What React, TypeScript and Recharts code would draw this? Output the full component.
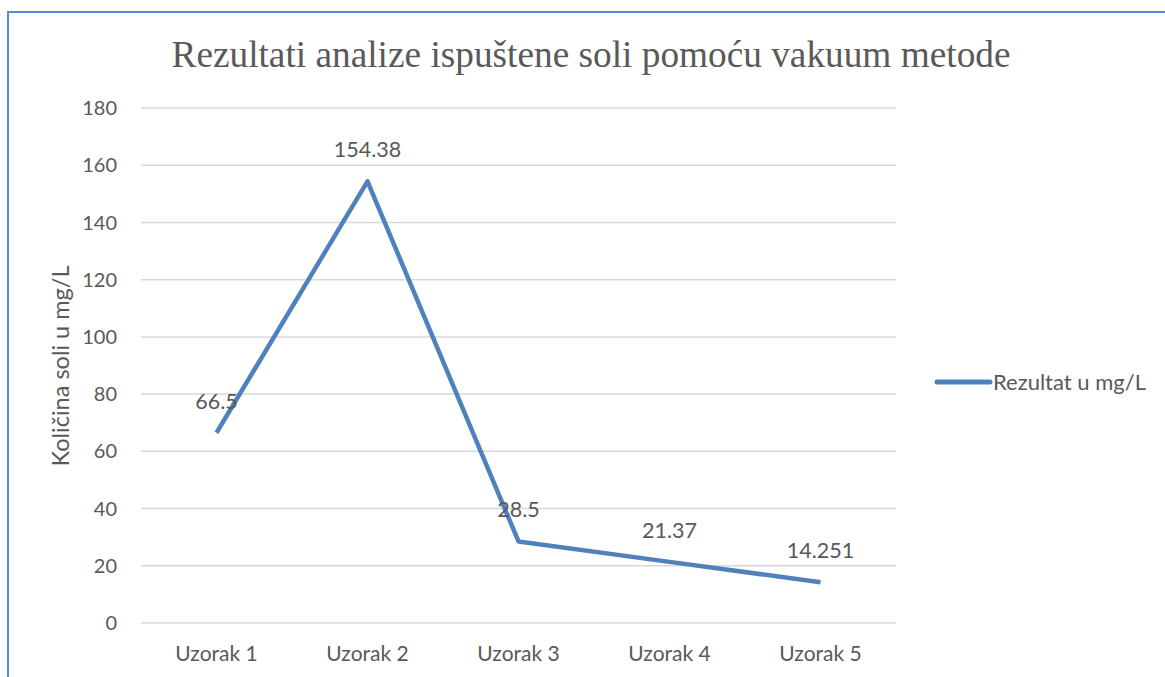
import React from "react";
import {
  LineChart,
  Line,
  XAxis,
  YAxis,
  CartesianGrid,
  LabelList,
} from "recharts";

const samples = ["Uzorak 1", "Uzorak 2", "Uzorak 3", "Uzorak 4", "Uzorak 5"];
const results = [66.5, 154.38, 28.5, 21.37, 14.251];
const yTicks = [0, 20, 40, 60, 80, 100, 120, 140, 160, 180];

const seriesName = "Rezultat u mg/L";
const chartTitle = "Rezultati analize ispuštene soli pomoću vakuum metode";
const yTitle = "Količina soli u mg/L";

const data = samples.map((s, i) => ({ name: s, value: results[i] }));

const FONT = "Lato, 'Open Sans', sans-serif";
const TEXT = "#595959";
const BLUE = "#4F81BD";

function PointLabel(props: any) {
  const { x, y, value } = props;
  return (
    <text
      x={x}
      y={y - 32}
      textAnchor="middle"
      dominantBaseline="central"
      fill={TEXT}
      fontSize={21.5}
      fontFamily={FONT}
    >
      {value}
    </text>
  );
}

export default function App() {
  return (
    <div
      style={{
        position: "fixed",
        left: 0,
        top: 0,
        width: 1165,
        height: 677,
        overflow: "hidden",
        background: "#fff",
      }}
    >
      <div
        style={{
          position: "absolute",
          left: 7,
          top: 11,
          width: 1300,
          height: 800,
          borderTop: "2px solid #5B8BD6",
          borderLeft: "2px solid #5B8BD6",
        }}
      />
      <div
        style={{
          position: "absolute",
          left: 0,
          top: 31,
          width: 1182,
          textAlign: "center",
          fontFamily: "'Liberation Serif', 'Times New Roman', serif",
          fontSize: 37.3,
          color: TEXT,
          lineHeight: "48px",
        }}
      >
        {chartTitle}
      </div>
      <div style={{ position: "absolute", left: 0, top: 0 }}>
        <LineChart
          width={1165}
          height={677}
          data={data}
          margin={{ top: 108, right: 269, left: 81, bottom: 0 }}
        >
          <CartesianGrid horizontal vertical={false} stroke="#D9D9D9" strokeWidth={1.5} />
          <XAxis
            dataKey="name"
            axisLine={false}
            tickLine={false}
            tickSize={0}
            tickMargin={23}
            height={54}
            padding={{ left: 75.5, right: 75.5 }}
            tick={{ fill: TEXT, fontSize: 21, fontFamily: FONT }}
          />
          <YAxis
            width={60}
            domain={[0, 180]}
            ticks={yTicks}
            axisLine={false}
            tickLine={false}
            tickSize={0}
            tickMargin={24}
            tick={{ fill: TEXT, fontSize: 20, fontFamily: FONT }}
            label={{
              content: () => (
                <text
                  x={0}
                  y={0}
                  transform="translate(60 366) rotate(-90)"
                  textAnchor="middle"
                  dominantBaseline="central"
                  fill={TEXT}
                  fontSize={23.5}
                  fontFamily={FONT}
                >
                  {yTitle}
                </text>
              ),
            }}
          />
          <Line
            name={seriesName}
            dataKey="value"
            type="linear"
            stroke={BLUE}
            strokeWidth={4.5}
            strokeLinejoin="round"
            dot={false}
            activeDot={false}
            isAnimationActive={false}
          >
            <LabelList dataKey="value" content={<PointLabel />} />
          </Line>
        </LineChart>
      </div>
      <div
        style={{
          position: "absolute",
          left: 933,
          top: 368,
          display: "flex",
          alignItems: "center",
          fontFamily: FONT,
          fontSize: 22,
          color: TEXT,
          whiteSpace: "nowrap",
        }}
      >
        <svg width={60} height={10}>
          <line x1={4} y1={5} x2={57} y2={5} stroke={BLUE} strokeWidth={5} strokeLinecap="round" />
        </svg>
        <span>{seriesName}</span>
      </div>
    </div>
  );
}
